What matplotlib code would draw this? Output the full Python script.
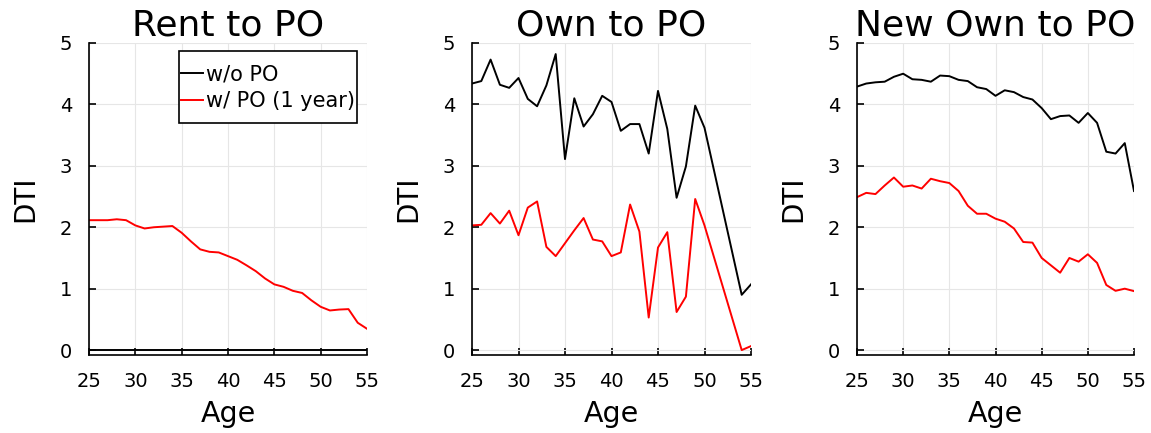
import matplotlib
matplotlib.use("Agg")
import matplotlib.pyplot as plt
from matplotlib.patches import Rectangle
import numpy as np

# Data
# ----------------------------------------------------------------------------

ages = list(range(25, 56))
ages_own = list(range(25, 51)) + [54, 55]   # 51-53 missing in own-to-PO panel

rent_wo = [0.0] * len(ages)
rent_w = [2.115, 2.115, 2.115, 2.13, 2.115, 2.03, 1.98, 2.0, 2.01, 2.02,
          1.91, 1.77, 1.64, 1.60, 1.59, 1.53, 1.47, 1.38, 1.285, 1.166,
          1.07, 1.03, 0.965, 0.93, 0.81, 0.705, 0.645, 0.66, 0.667, 0.445,
          0.347]

own_wo = [4.34, 4.38, 4.73, 4.32, 4.27, 4.43, 4.09, 3.97, 4.31, 4.82,
          3.11, 4.10, 3.64, 3.84, 4.14, 4.04, 3.57, 3.68, 3.68, 3.20,
          4.22, 3.60, 2.48, 2.99, 3.98, 3.62, 0.90, 1.07]
own_w = [2.03, 2.04, 2.23, 2.06, 2.27, 1.87, 2.32, 2.42, 1.68, 1.53,
         1.74, 1.95, 2.15, 1.80, 1.77, 1.53, 1.59, 2.37, 1.93, 0.53,
         1.67, 1.92, 0.62, 0.87, 2.46, 2.03, 0.0, 0.065]

new_wo = [4.29, 4.34, 4.36, 4.37, 4.45, 4.50, 4.41, 4.40, 4.37, 4.47,
          4.46, 4.40, 4.38, 4.28, 4.25, 4.14, 4.23, 4.20, 4.12, 4.08,
          3.94, 3.76, 3.81, 3.82, 3.70, 3.86, 3.70, 3.23, 3.20, 3.37,
          2.59]
new_w = [2.49, 2.56, 2.54, 2.68, 2.81, 2.66, 2.68, 2.63, 2.79, 2.75,
         2.72, 2.59, 2.35, 2.22, 2.22, 2.14, 2.09, 1.98, 1.76, 1.75,
         1.50, 1.38, 1.26, 1.50, 1.44, 1.56, 1.42, 1.06, 0.965, 1.00,
         0.96]

titles = ['Rent to PO', 'Own to PO', 'New Own to PO']
panels = [(ages, rent_wo, ages, rent_w),
          (ages_own, own_wo, ages_own, own_w),
          (ages, new_wo, ages, new_w)]

# Plot
# ----------------------------------------------------------------------------

fig = plt.figure(figsize=(11.51, 4.33), dpi=100)
lefts = [89 / 1151, 472 / 1151, 857 / 1151]
widths = [278 / 1151, 279 / 1151, 277 / 1151]
bottom = 1 - 355 / 433
height = (355 - 43) / 433

for i, (x1, y1, x2, y2) in enumerate(panels):
    ax = fig.add_axes([lefts[i], bottom, widths[i], height])
    ax.plot(x1, y1, color='black', lw=1.4, label='w/o PO')
    ax.plot(x2, y2, color='red', lw=1.4, label='w/ PO (1 year)')
    ax.set_xlim(25, 55)
    ax.set_ylim(-0.08, 5)
    ax.set_xticks(np.arange(25, 56, 5))
    ax.set_yticks(np.arange(0, 6, 1))
    ax.grid(color='0.9', lw=0.8)
    ax.set_axisbelow(True)
    for s in ['top', 'right']:
        ax.spines[s].set_visible(False)
    for s in ['left', 'bottom']:
        ax.spines[s].set_linewidth(1.2)
    ax.tick_params(direction='in', length=5, width=1.2, labelsize=14, pad=12)
    ax.set_title(titles[i], fontsize=26, pad=3)
    ax.set_xlabel('Age', fontsize=20.5, labelpad=7)
    ax.set_ylabel('DTI', fontsize=20, labelpad=15)
    if i == 0:
        # legend box with more vertical than horizontal padding
        ax.add_patch(Rectangle((0.324, 0.744), 0.64, 0.23,
                               transform=ax.transAxes, facecolor='white',
                               edgecolor='black', lw=1.2, zorder=4))
        leg = ax.legend(loc='center', bbox_to_anchor=(0.644, 0.857),
                        fontsize=15, handlelength=1.06, handletextpad=0.15,
                        borderpad=0, borderaxespad=0, labelspacing=0.32,
                        frameon=False)
        leg.set_zorder(5)

fig.savefig('out.png', dpi=100)
